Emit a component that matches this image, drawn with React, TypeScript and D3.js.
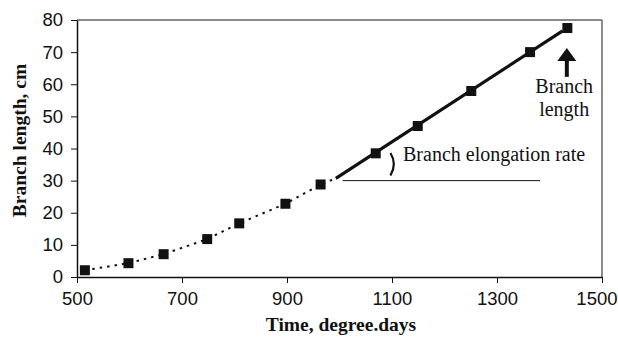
import React, { useEffect, useRef } from 'react';
import * as d3 from 'd3';

// measured points (time in degree.days, branch length in cm)
const timeValues = [515, 598, 665, 748, 809, 897, 964, 1069, 1149, 1251, 1363, 1434];
const lengthValues = [2.1, 4.3, 7.1, 11.8, 16.7, 22.8, 28.8, 38.5, 47.0, 57.9, 70.0, 77.5];

// dotted trend through the early points, ending where the fitted line starts
const curveTime = [515, 598, 665, 748, 809, 897, 964, 993];
const curveLength = [2.1, 4.3, 7.1, 11.8, 16.7, 22.8, 28.8, 30.7];

// linear elongation phase
const fitTime = [993, 1425];
const fitLength = [30.7, 76.6];

const xTicks = [500, 700, 900, 1100, 1300, 1500];
const yTicks = [0, 10, 20, 30, 40, 50, 60, 70, 80];

const W = 618;
const H = 339;

const App = () => {
    const svgRef = useRef<SVGSVGElement>(null);

    useEffect(() => {
        const svg = d3.select(svgRef.current);
        svg.selectAll('*').remove();

        const x = d3.scaleLinear().domain([500, 1500]).range([77, 602]);
        const y = d3.scaleLinear().domain([0, 80]).range([277, 20]);

        const sans = '"Liberation Sans", Arial, sans-serif';
        const serif = '"Liberation Serif", "Times New Roman", serif';

        // frame (top + right)
        svg.append('line')
            .attr('x1', x(500)).attr('x2', x(1500))
            .attr('y1', y(80)).attr('y2', y(80))
            .attr('stroke', '#111').attr('stroke-width', 1);
        svg.append('line')
            .attr('x1', x(1500)).attr('x2', x(1500))
            .attr('y1', y(80)).attr('y2', y(0))
            .attr('stroke', '#666').attr('stroke-width', 1.5);

        // axes
        const xAxis = svg.append('g')
            .attr('transform', `translate(0,${y(0)})`)
            .call(d3.axisBottom(x).tickValues(xTicks).tickFormat(d3.format('d'))
                .tickSize(6).tickSizeOuter(0).tickPadding(9));
        const yAxis = svg.append('g')
            .attr('transform', `translate(${x(500)},0)`)
            .call(d3.axisLeft(y).tickValues(yTicks).tickSize(6).tickSizeOuter(0).tickPadding(8));

        [xAxis, yAxis].forEach(a => {
            a.select('.domain').attr('stroke', '#111').attr('stroke-width', 1.5);
            a.selectAll('.tick line').attr('stroke', '#111');
            a.selectAll('text')
                .attr('fill', '#111')
                .style('font-family', sans)
                .style('font-size', '18.5px');
        });

        // last label is pulled in so it stays inside the picture
        xAxis.selectAll<SVGTextElement, number>('.tick text')
            .filter(d => d === 1500)
            .attr('text-anchor', 'end')
            .attr('x', 15);

        // dotted curve
        const line = d3.line<number>()
            .x((d, i) => x(curveTime[i]))
            .y(d => y(d));
        svg.append('path')
            .attr('d', line(curveLength))
            .attr('fill', 'none')
            .attr('stroke', '#111')
            .attr('stroke-width', 2)
            .attr('stroke-dasharray', '2.5,5');

        // fitted line
        const fit = d3.line<number>()
            .x((d, i) => x(fitTime[i]))
            .y(d => y(d));
        svg.append('path')
            .attr('d', fit(fitLength))
            .attr('fill', 'none')
            .attr('stroke', '#111')
            .attr('stroke-width', 3.2);

        // horizontal reference for the rate angle
        svg.append('line')
            .attr('x1', x(1006)).attr('x2', x(1382))
            .attr('y1', y(30)).attr('y2', y(30))
            .attr('stroke', '#111').attr('stroke-width', 1);

        // angle mark
        svg.append('path')
            .attr('d', `M${x(1097)},${y(38.6)} Q${x(1110)},${y(35.2)} ${x(1097)},${y(31.6)}`)
            .attr('fill', 'none')
            .attr('stroke', '#111')
            .attr('stroke-width', 2.2);

        svg.append('text')
            .attr('x', x(1121))
            .attr('y', y(36.1))
            .attr('fill', '#111')
            .style('font-family', serif)
            .style('font-size', '20px')
            .text('Branch elongation rate');

        // markers
        svg.selectAll('.pt')
            .data(lengthValues)
            .join('rect')
            .attr('class', 'pt')
            .attr('x', (d, i) => x(timeValues[i]) - 5)
            .attr('y', d => y(d) - 5)
            .attr('width', 10)
            .attr('height', 10)
            .attr('fill', '#111');

        // arrow pointing at the final length
        const ax = x(1433);
        svg.append('line')
            .attr('x1', ax).attr('x2', ax)
            .attr('y1', y(67.5)).attr('y2', y(62.3))
            .attr('stroke', '#111').attr('stroke-width', 4);
        svg.append('path')
            .attr('d', `M${ax},${y(71.3)} L${ax + 9.5},${y(67.2)} L${ax - 9.5},${y(67.2)} Z`)
            .attr('fill', '#111');

        const lbl = svg.append('text')
            .attr('text-anchor', 'middle')
            .attr('fill', '#111')
            .style('font-family', serif)
            .style('font-size', '20px');
        lbl.append('tspan').attr('x', x(1428)).attr('y', 93).text('Branch');
        lbl.append('tspan').attr('x', x(1428)).attr('y', 116).text('length');

        // axis titles
        svg.append('text')
            .attr('x', 341)
            .attr('y', 331)
            .attr('text-anchor', 'middle')
            .attr('fill', '#111')
            .style('font-family', serif)
            .style('font-size', '19.5px')
            .style('font-weight', 'bold')
            .text('Time, degree.days');

        svg.append('text')
            .attr('transform', 'rotate(-90)')
            .attr('x', -140.5)
            .attr('y', 26)
            .attr('text-anchor', 'middle')
            .attr('fill', '#111')
            .style('font-family', serif)
            .style('font-size', '19.5px')
            .style('font-weight', 'bold')
            .text('Branch length, cm');
    }, []);

    return (
        <svg ref={svgRef} width={W} height={H}
            style={{ position: 'absolute', left: 0, top: 0, background: '#fff' }} />
    );
};

export default App;
